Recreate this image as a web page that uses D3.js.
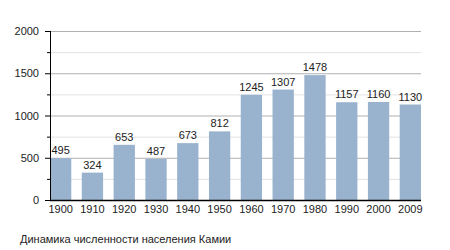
<!DOCTYPE html>
<html>
<head>
<meta charset="utf-8">
<script src="https://cdn.jsdelivr.net/npm/d3@7"></script>
<style>
  body { margin: 0; background: #fff; }
  text { font-family: "Liberation Sans", Arial, sans-serif; fill: #222; }
</style>
</head>
<body>
<div id="chart"></div>
<script>
// population of Kamii by year
const years = ['1900', '1910', '1920', '1930', '1940', '1950', '1960', '1970', '1980', '1990', '2000', '2009'];
const population = [495, 324, 653, 487, 673, 812, 1245, 1307, 1478, 1157, 1160, 1130];
const yTicks = [0, 500, 1000, 1500, 2000];
const yMinorTicks = [250, 750, 1250, 1750];
const title = 'Динамика численности населения Камии';

const width = 450, height = 250;
const margin = {top: 31, right: 29, bottom: 50, left: 50};

let svg = d3.select('#chart').append('svg')
    .attr('width', width)
    .attr('height', height);

let x = d3.scaleBand()
    .domain(years)
    .range([margin.left, width - margin.right])
    .paddingInner(0.33)
    .paddingOuter(0);

let y = d3.scaleLinear()
    .domain([0, 2000])
    .range([height - margin.bottom, margin.top]);

// grid lines: light minor ones first, then major
svg.append('g')
    .selectAll('line')
    .data(yMinorTicks)
    .enter().append('line')
        .attr('x1', margin.left)
        .attr('x2', width - margin.right)
        .attr('y1', d => y(d) + 0.5)
        .attr('y2', d => y(d) + 0.5)
        .attr('stroke', '#e2e2e2');

svg.append('g')
    .selectAll('line')
    .data(yTicks.slice(1))
    .enter().append('line')
        .attr('x1', margin.left)
        .attr('x2', width - margin.right)
        .attr('y1', d => y(d) + 0.5)
        .attr('y2', d => y(d) + 0.5)
        .attr('stroke', '#b0b0b0');

// bars
svg.append('g')
    .selectAll('rect')
    .data(population)
    .enter().append('rect')
        .attr('x', (d, i) => x(years[i]))
        .attr('y', d => y(d))
        .attr('width', x.bandwidth())
        .attr('height', d => y(0) - y(d))
        .attr('fill', '#99b2cd');

// value labels
svg.append('g')
    .selectAll('text')
    .data(population)
    .enter().append('text')
        .attr('x', (d, i) => x(years[i]) + x.bandwidth() / 2)
        .attr('y', d => y(d) - 4)
        .attr('text-anchor', 'middle')
        .attr('font-size', 11)
        .text(d => d);

// y axis
let yAxis = svg.append('g')
    .attr('transform', `translate(${margin.left},0)`)
    .call(d3.axisLeft(y).tickValues(yTicks).tickFormat(d3.format('d')).tickSize(5).tickPadding(6));
yAxis.selectAll('text').attr('font-size', 11).style('font-family', '"Liberation Sans", Arial, sans-serif').attr('fill', '#222');
yAxis.select('.domain').attr('stroke', '#000').attr('d', `M0.5,${y(2000)}V${y(0)}`);

svg.append('g')
    .attr('transform', `translate(${margin.left},0)`)
    .selectAll('line')
    .data(yMinorTicks)
    .enter().append('line')
        .attr('x1', -3)
        .attr('x2', 0)
        .attr('y1', d => y(d) + 0.5)
        .attr('y2', d => y(d) + 0.5)
        .attr('stroke', '#000');

// x axis
let xAxis = svg.append('g')
    .attr('transform', `translate(0,${y(0)})`)
    .call(d3.axisBottom(x).tickSize(0).tickPadding(5));
xAxis.selectAll('text').attr('font-size', 11).style('font-family', '"Liberation Sans", Arial, sans-serif').attr('fill', '#222');
xAxis.select('.domain').attr('stroke', '#000').attr('stroke-width', 1.5)
    .attr('d', `M${margin.left},0.5H${width - margin.right}`);

// caption
svg.append('text')
    .attr('x', 20)
    .attr('y', 243)
    .attr('font-size', 11)
    .text(title);
</script>
</body>
</html>
